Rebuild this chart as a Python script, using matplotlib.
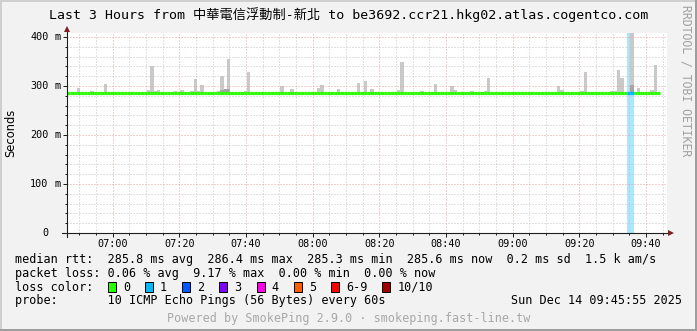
import matplotlib
matplotlib.use('Agg')
import matplotlib.pyplot as plt
from matplotlib.patches import Rectangle
from matplotlib.ticker import MultipleLocator, FixedLocator, FuncFormatter
from matplotlib import transforms
import numpy as np

W, H = 697, 331
MONO = 'DejaVu Sans Mono'
plt.rcParams['lines.scale_dashes'] = False

# first sample, minutes after midnight (06:46:17)
start = 6 * 60 + 46.29

# median rtt per 1 minute step, in ms
median = [
    285.4, 285.3, 286.1, 286.2, 285.4, 286.0, 286.2, 286.1, 286.0, 285.4, 286.1, 286.2, 286.0, 286.1, 286.2, 286.0, 285.5, 286.1, 286.2, 286.0,
    286.1, 285.4, 285.5, 286.0, 286.2, 286.4, 286.1, 286.0, 286.1, 286.2, 286.0, 286.1, 286.0, 286.2, 286.1, 286.0, 286.1, 286.2, 286.3, 286.1,
    286.2, 286.0, 286.1, 285.4, 286.1, 286.0, 286.2, 286.3, 286.2, 286.0, 285.5, 285.4, 285.4, 285.5, 285.6, 285.4, 285.5, 286.1, 286.0, 285.4,
    285.5, 286.1, 286.0, 286.2, 286.1, 286.0, 286.1, 286.2, 286.0, 286.1, 286.0, 286.2, 286.1, 286.0, 286.1, 285.4, 285.5, 285.4, 285.3, 286.1,
    286.0, 286.2, 286.1, 286.0, 285.4, 285.5, 286.1, 286.2, 286.0, 286.1, 286.2, 286.0, 286.1, 286.0, 285.4, 286.1, 286.0, 286.2, 285.4, 286.1,
    286.2, 286.0, 286.1, 286.0, 286.2, 286.1, 286.0, 286.1, 286.2, 286.0, 286.1, 286.0, 286.2, 285.4, 286.1, 286.0, 286.2, 286.1, 285.3, 286.0,
    286.1, 286.2, 286.0, 286.1, 285.4, 286.0, 286.2, 286.1, 285.4, 286.1, 286.0, 286.2, 286.1, 286.0, 286.1, 286.2, 286.0, 286.1, 286.0, 286.2,
    286.1, 286.0, 286.1, 286.2, 285.4, 286.0, 286.1, 286.2, 286.0, 286.1, 286.0, 286.2, 286.1, 286.0, 286.1, 286.2, 286.0, 286.1, 286.0, 286.2,
    286.1, 286.0, 285.4, 286.1, 286.0, 286.2, 286.1, 286.0, 285.9, 285.8, 285.4, 286.1, 286.0, 286.2, 285.4, 286.1, 286.0, 285.6,
]

# steps with lost pings (out of 10)
loss_step = [168, 169]
loss_count = [1, 1]

# smoke: highest ping per step where it stands out above the median
smoke_step = [3, 7, 10, 11, 24, 25, 26, 27, 32, 34, 37, 38, 39, 40, 45, 46, 47, 48, 49, 53, 54,
              64, 67, 75, 76, 81, 87, 89, 91, 99, 100, 106, 110, 115, 116, 120, 121, 125, 126,
              147, 148, 154, 155, 163, 164, 165, 166, 169, 170, 171, 175, 176]
smoke_max = [296, 290, 288, 305, 292, 341, 290, 292, 290, 292, 290, 314, 290, 303, 290, 321, 294, 356, 288, 290, 329,
             300, 294, 296, 303, 294, 306, 311, 294, 292, 349, 290, 305, 300, 292, 288, 290, 290, 316,
             300, 292, 290, 329, 290, 290, 333, 316, 430, 288, 296, 292, 343]
# denser inner pings
dark_step = [46, 47, 48, 169]
dark_top = [292, 294, 294, 303]

ytick_vals = [0, 100, 200, 300, 400]
xtick_vals = [420, 440, 460, 480, 500, 520, 540, 560, 580]

loss_names = ['0', '1', '2', '3', '4', '5', '6-9', '10/10']
loss_colors = ['#26ff00', '#00b8ff', '#0059ff', '#7e00ff', '#ff00ea', '#ff5e00', '#ff0000', '#a10000']

title = 'Last 3 Hours from 中華電信浮動制-新北 to be3692.ccr21.hkg02.atlas.cogentco.com'
rtt_line = 'median rtt:  285.8 ms avg  286.4 ms max  285.3 ms min  285.6 ms now  0.2 ms sd  1.5 k am/s'
loss_line = 'packet loss: 0.06 % avg  9.17 % max  0.00 % min  0.00 % now'
probe_line = 'probe:       10 ICMP Echo Pings (56 Bytes) every 60s'
stamp = 'Sun Dec 14 09:45:55 2025'
footer = 'Powered by SmokePing 2.9.0 · smokeping.fast-line.tw'


def fx(px):
    return px / W


def fy(py):
    return 1 - py / H


fig = plt.figure(figsize=(W / 100, H / 100), dpi=100, facecolor='#f2f2f2')

# rrdtool style shaded frame
fig.patches.extend([
    Rectangle((0, 0), fx(2), 1, transform=fig.transFigure, color='#cfcfcf', lw=0),
    Rectangle((0, 1 - 2 / H), 1, 2 / H, transform=fig.transFigure, color='#cfcfcf', lw=0),
    Rectangle((1 - 2 / W, 0), 2 / W, 1, transform=fig.transFigure, color='#9e9e9e', lw=0),
    Rectangle((0, 0), 1, 2 / H, transform=fig.transFigure, color='#9e9e9e', lw=0),
])

ax = fig.add_axes([fx(67), fy(233), 600 / W, 200 / H])
ax.set_facecolor('white')
for s in ax.spines.values():
    s.set_visible(False)

med = np.array(median)
t = start + np.arange(len(med))
ax.set_xlim(start, start + 180)
ax.set_ylim(0, 200 / 0.49)

# loss band
for s, c in zip(loss_step, loss_count):
    ax.axvspan(t[s], t[s] + 1, color=loss_colors[c], alpha=0.33, lw=0, zorder=1)

# smoke
ss = np.array(smoke_step)
ax.bar(t[ss], np.array(smoke_max) - med[ss], bottom=med[ss], width=1, align='edge',
       color='#c9c9c9', lw=0, zorder=2)
ds = np.array(dark_step)
ax.bar(t[ds], np.array(dark_top) - med[ds], bottom=med[ds], width=1, align='edge',
       color='#a4a4a4', lw=0, zorder=2.1)

# median line, coloured by loss
line_colors = [loss_colors[0]] * len(med)
for s, c in zip(loss_step, loss_count):
    line_colors[s] = loss_colors[c]
ax.hlines(med, t, t + 1, colors=line_colors, lw=2.3, capstyle='butt', zorder=3)

# grid, dotted
ax.set_axisbelow(False)
ax.xaxis.set_major_locator(FixedLocator(xtick_vals))
ax.xaxis.set_minor_locator(MultipleLocator(5))
ax.yaxis.set_major_locator(FixedLocator(ytick_vals))
ax.yaxis.set_minor_locator(MultipleLocator(20))
ax.grid(which='major', color='#eaa0a0', ls=(0, (0.72, 1.44)), lw=0.72, snap=True)
ax.grid(which='minor', color='#c4c4c4', ls=(0, (0.72, 1.44)), lw=0.72, snap=True)

ax.xaxis.set_major_formatter(FuncFormatter(lambda v, p: '%02d:%02d' % (int(v) // 60, int(v) % 60)))
ax.tick_params(which='major', direction='out', length=3, width=0.72, color='#1f1f1f', pad=1.2)
ax.tick_params(which='minor', direction='out', length=1.5, width=0.72, color='#1f1f1f')
ax.tick_params(axis='y', labelleft=False)
for lab in ax.get_xticklabels():
    lab.set_family(MONO)
    lab.set_fontsize(7.3)

# y labels: number right aligned, unit after it
tr = transforms.blended_transform_factory(fig.transFigure, ax.transData)
for v in ytick_vals:
    ax.text(fx(48.5), v, '%d' % v, transform=tr, ha='right', va='center', family=MONO, fontsize=7.3)
    if v:
        ax.text(fx(54.5), v, 'm', transform=tr, ha='left', va='center', family=MONO, fontsize=7.3)


# axes with arrows
def dx(px):
    return start + (px - 67) * 0.3


def dy(py):
    return (233 - py) / 0.49


ax.plot([dx(62), dx(670)], [0, 0], color='#1f1f1f', lw=0.8, clip_on=False, zorder=5)
ax.plot([dx(67), dx(67)], [dy(237), dy(30)], color='#1f1f1f', lw=0.8, clip_on=False, zorder=5)
ax.plot(dx(671), 0, marker='>', ms=4, color='#801f1f', mew=0, clip_on=False, zorder=6)
ax.plot(dx(67), dy(29), marker='^', ms=4, color='#801f1f', mew=0, clip_on=False, zorder=6)

# texts
fig.text(0.5, fy(19.3), title, ha='center', va='baseline',
         family=[MONO, 'Noto Sans CJK TC'], fontsize=9.5)
fig.text(fx(11), fy(133), 'Seconds', rotation=90, ha='center', va='center',
         family='DejaVu Sans', fontsize=8.3)
fig.text(fx(686), fy(81), 'RRDTOOL / TOBI OETIKER', rotation=270, ha='center', va='center',
         family=MONO, fontsize=8.3, color='#a0a0a0')

fs = 8.5
cw = 7.14
fig.text(fx(15), fy(263.3), rtt_line, family=MONO, fontsize=fs, va='baseline')
fig.text(fx(15), fy(276.9), loss_line, family=MONO, fontsize=fs, va='baseline')
fig.text(fx(15), fy(290.6), 'loss color:', family=MONO, fontsize=fs, va='baseline')
bx = 108
for name, col in zip(loss_names, loss_colors):
    fig.patches.append(Rectangle((fx(bx), fy(291.5)), 8 / W, 10 / H, transform=fig.transFigure,
                                 facecolor=col, edgecolor='black', lw=0.72))
    fig.text(fx(bx + 15), fy(290.6), name, family=MONO, fontsize=fs, va='baseline')
    bx += 15 + len(name) * cw + 15
fig.text(fx(15), fy(304.3), probe_line, family=MONO, fontsize=fs, va='baseline')
fig.text(fx(682), fy(304.3), stamp, family=MONO, fontsize=fs, va='baseline', ha='right')
fig.text(0.5, fy(321.7), footer, family=MONO, fontsize=fs, va='baseline', ha='center', color='#a8a8a8')

fig.savefig('out.png', dpi=100, facecolor=fig.get_facecolor())
